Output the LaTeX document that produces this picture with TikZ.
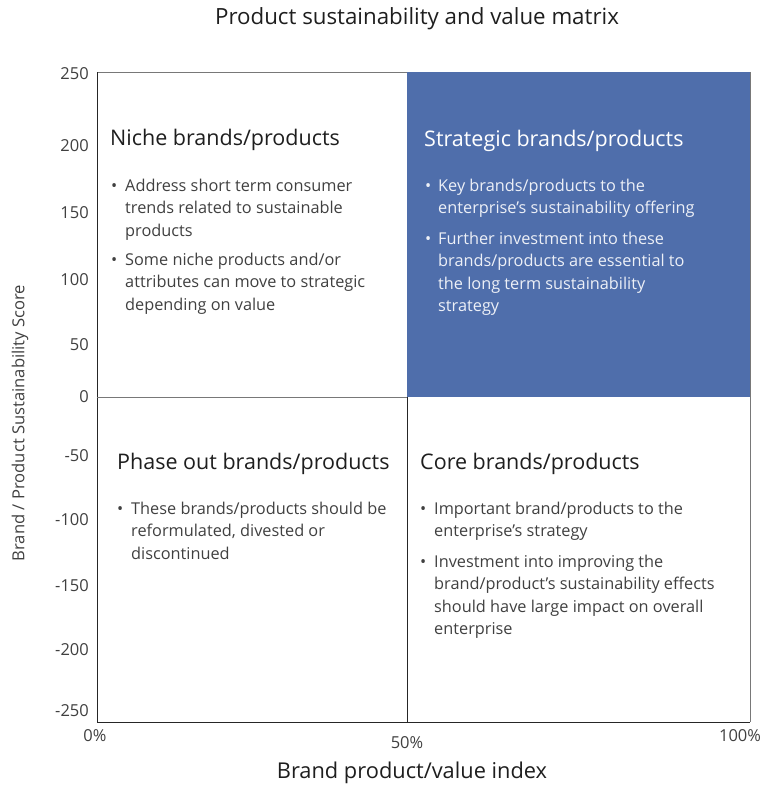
\documentclass[tikz,border=0pt]{standalone}
\usepackage{fontspec}
\setmainfont{Open Sans}
\definecolor{stratblue}{RGB}{79,110,171}
\definecolor{bodygray}{RGB}{64,64,64}
\definecolor{headdark}{RGB}{30,30,30}
\definecolor{framegray}{RGB}{120,120,120}
\newcommand{\bodyfont}{\fontsize{16.3}{22.5}\selectfont}
\newcommand{\blines}[1]{\parbox[t]{320pt}{\raggedright\bodyfont #1}}
\begin{document}
\begin{tikzpicture}[x=1pt,y=-1pt,
  frame/.style={draw=framegray,line width=1pt},
  divider/.style={draw=black!85,line width=0.9pt},
  tick/.style={anchor=east,inner sep=0pt,font=\fontsize{16.5}{18}\selectfont,text=bodygray},
  xtick/.style={inner sep=0pt,font=\fontsize{16.5}{18}\selectfont,text=bodygray},
  head/.style={anchor=base west,inner sep=0pt,font=\fontsize{21.5}{25}\selectfont,text=headdark},
  bul/.style={anchor=base west,inner sep=0pt,text=bodygray},
  dot/.style={anchor=base west,inner sep=0pt,font=\bodyfont,text=bodygray},
  lite/.style={text=white!90!stratblue},
]
\useasboundingbox (0,0) rectangle (773,787);
% blue quadrant
\fill[stratblue] (407,72) rectangle (750,397);
% frame and dividers
\draw[frame] (97,72) -- (407,72);
\draw[frame] (750,72) -- (750,722);
\draw[divider] (97,72) -- (97,722) -- (750,722);
\draw[frame] (97,397) -- (407,397);
\draw[divider] (407,397) -- (407,722);
% titles
\node[font=\fontsize{22.3}{26}\selectfont,text=headdark] (title) at (417,19) {Product sustainability and value matrix};
\node[font=\fontsize{21.8}{25}\selectfont,text=headdark] (xtitle) at (412,773) {Brand product/value index};
\node[rotate=90,font=\fontsize{16.6}{18}\selectfont,text=bodygray] (ytitle) at (20,423) {Brand / Product Sustainability Score};
% y ticks
\node[tick] (t250) at (89,74) {250};
\node[tick] (t200) at (89,146) {200};
\node[tick] (t150) at (89,213) {150};
\node[tick] (t100) at (89,280) {100};
\node[tick] (t50) at (89,345) {50};
\node[tick] (t0) at (89,397) {0};
\node[tick] (tm50) at (89,456) {-50};
\node[tick] (tm100) at (89,520) {-100};
\node[tick] (tm150) at (89,586) {-150};
\node[tick] (tm200) at (89,650) {-200};
\node[tick] (tm250) at (89,711) {-250};
% x ticks
\node[xtick] (x0) at (95,736) {0\%};
\node[xtick] (x50) at (407,743) {50\%};
\node[xtick] (x100) at (740,736) {100\%};
% Niche
\node[head] (nicheh) at (110,145) {Niche brands/products};
\node[dot] (nd1) at (111,191) {•};
\node[bul] (nb1) at (125,191) {\blines{Address short term consumer\\trends related to sustainable\\products}};
\node[dot] (nd2) at (111,265) {•};
\node[bul] (nb2) at (125,265) {\blines{Some niche products and/or\\attributes can move to strategic\\depending on value}};
% Strategic
\node[head,text=white] (strath) at (424,146) {Strategic brands/products};
\node[dot,lite] (sd1) at (425,191) {•};
\node[bul,lite] (sb1) at (438,191) {\blines{Key brands/products to the\\enterprise’s sustainability offering}};
\node[dot,lite] (sd2) at (425,244) {•};
\node[bul,lite] (sb2) at (438,244) {\blines{Further investment into these\\brands/products are essential to\\the long term sustainability\\strategy}};
% Phase out
\node[head] (phaseh) at (117,469) {Phase out brands/products};
\node[dot] (pd1) at (117,514) {•};
\node[bul] (pb1) at (131,514) {\blines{These brands/products should be\\reformulated, divested or\\discontinued}};
% Core
\node[head] (coreh) at (420,469) {Core brands/products};
\node[dot] (cd1) at (420,514) {•};
\node[bul] (cb1) at (434,514) {\blines{Important brand/products to the\\enterprise’s strategy}};
\node[dot] (cd2) at (420,567) {•};
\node[bul] (cb2) at (434,567) {\blines{Investment into improving the\\brand/product’s sustainability effects\\should have large impact on overall\\enterprise}};
\end{tikzpicture}
\end{document}
